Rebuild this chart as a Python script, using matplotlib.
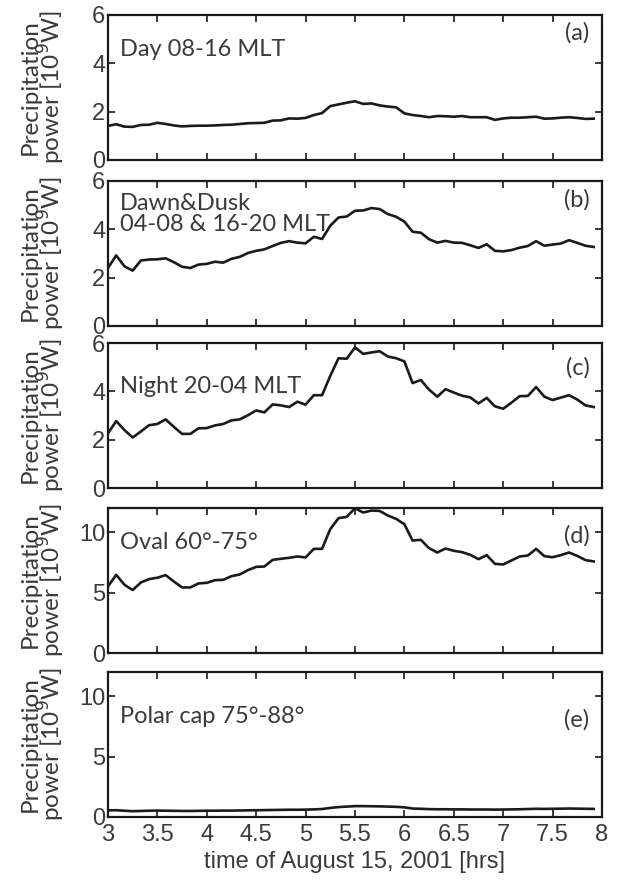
import numpy as np
import matplotlib
matplotlib.use("Agg")
import matplotlib.pyplot as plt

# 5-minute samples, 3:00 to 7:55
hours = 3 + np.arange(60) * 5 / 60

day = [1.41, 1.48, 1.38, 1.37, 1.45, 1.46, 1.54, 1.49, 1.43, 1.39,
       1.41, 1.42, 1.42, 1.43, 1.45, 1.46, 1.49, 1.52, 1.53, 1.54,
       1.63, 1.64, 1.72, 1.71, 1.74, 1.86, 1.94, 2.23, 2.30, 2.37,
       2.43, 2.32, 2.34, 2.26, 2.21, 2.18, 1.93, 1.86, 1.82, 1.77,
       1.82, 1.81, 1.79, 1.82, 1.77, 1.77, 1.77, 1.66, 1.72, 1.75,
       1.75, 1.77, 1.79, 1.71, 1.72, 1.75, 1.77, 1.74, 1.70, 1.71]

dawn_dusk = [2.40, 2.92, 2.47, 2.29, 2.71, 2.75, 2.76, 2.80, 2.64, 2.45,
             2.40, 2.54, 2.57, 2.66, 2.62, 2.78, 2.86, 3.02, 3.11, 3.17,
             3.31, 3.44, 3.51, 3.45, 3.42, 3.69, 3.60, 4.15, 4.49, 4.53,
             4.77, 4.78, 4.88, 4.84, 4.63, 4.52, 4.32, 3.90, 3.86, 3.59,
             3.45, 3.52, 3.45, 3.44, 3.34, 3.23, 3.38, 3.11, 3.09, 3.14,
             3.24, 3.31, 3.51, 3.32, 3.37, 3.41, 3.55, 3.44, 3.32, 3.27]

night = [2.26, 2.77, 2.40, 2.09, 2.34, 2.60, 2.65, 2.84, 2.53, 2.24,
         2.24, 2.47, 2.48, 2.59, 2.65, 2.80, 2.84, 3.01, 3.21, 3.13,
         3.46, 3.42, 3.35, 3.57, 3.45, 3.84, 3.84, 4.64, 5.37, 5.35,
         5.82, 5.55, 5.61, 5.66, 5.44, 5.37, 5.24, 4.34, 4.47, 4.07,
         3.78, 4.09, 3.95, 3.82, 3.75, 3.50, 3.73, 3.38, 3.28, 3.53,
         3.80, 3.81, 4.18, 3.78, 3.64, 3.74, 3.84, 3.66, 3.42, 3.35]

oval = [5.51, 6.47, 5.65, 5.21, 5.84, 6.12, 6.23, 6.45, 5.92, 5.43,
        5.43, 5.76, 5.81, 6.03, 6.06, 6.36, 6.50, 6.86, 7.13, 7.16,
        7.71, 7.80, 7.88, 7.99, 7.91, 8.62, 8.62, 10.25, 11.16, 11.27,
        11.98, 11.63, 11.79, 11.76, 11.38, 11.10, 10.66, 9.31, 9.37, 8.68,
        8.32, 8.65, 8.46, 8.35, 8.13, 7.77, 8.10, 7.38, 7.33, 7.66,
        7.99, 8.07, 8.62, 8.02, 7.93, 8.10, 8.32, 8.04, 7.69, 7.58]

polar = [0.55, 0.56, 0.52, 0.48, 0.50, 0.52, 0.53, 0.52, 0.51, 0.50,
         0.50, 0.51, 0.52, 0.52, 0.53, 0.53, 0.54, 0.55, 0.56, 0.57,
         0.58, 0.59, 0.60, 0.60, 0.61, 0.63, 0.66, 0.75, 0.82, 0.86,
         0.90, 0.90, 0.89, 0.88, 0.86, 0.84, 0.80, 0.70, 0.68, 0.65,
         0.64, 0.64, 0.63, 0.63, 0.62, 0.62, 0.62, 0.61, 0.62, 0.63,
         0.64, 0.66, 0.68, 0.67, 0.68, 0.69, 0.70, 0.69, 0.68, 0.67]

series = [day, dawn_dusk, night, oval, polar]
region_text = ["Day 08-16 MLT", "Dawn&Dusk\n04-08 & 16-20 MLT", "Night 20-04 MLT",
               "Oval 60°-75°", "Polar cap 75°-88°"]
letters = ["(a)", "(b)", "(c)", "(d)", "(e)"]
ylims = [6, 6, 6, 12, 12]
yticks = [[0, 2, 4, 6], [0, 2, 4, 6], [0, 2, 4, 6], [0, 5, 10], [0, 5, 10]]
xticks = [3, 3.5, 4, 4.5, 5, 5.5, 6, 6.5, 7, 7.5, 8]
xticklabels = ["3", "3.5", "4", "4.5", "5", "5.5", "6", "6.5", "7", "7.5", "8"]

txt = "#3a3a3a"
label_font = ["Lato", "DejaVu Sans"]
tick_font = ["Liberation Sans Narrow", "Liberation Sans", "DejaVu Sans"]

fig = plt.figure(figsize=(6.37, 8.82), dpi=100)

bottoms = [0.8186, 0.6304, 0.4467, 0.2596, 0.0737]
text_y = [0.76, 0.77, 0.70, 0.76, 0.69]
letter_y = [0.875, 0.87, 0.83, 0.81, 0.67]

for i in range(5):
    ax = fig.add_axes([0.1695, bottoms[i], 0.7755, 0.1644])
    ax.plot(hours, series[i], color="#1a1a1a", lw=1.9)
    ax.set_xlim(3, 8)
    ax.set_ylim(0, ylims[i])
    ax.set_yticks(yticks[i])
    ax.set_yticklabels([str(v) for v in yticks[i]], family=tick_font, fontsize=17, color=txt)
    ax.set_xticks(xticks)
    if i == 4:
        ax.set_xticklabels(xticklabels, family=tick_font, fontsize=17, color=txt)
        ax.set_xlabel("time of August 15, 2001 [hrs]", family=tick_font, fontsize=17,
                      color=txt, labelpad=4)
        ax.tick_params(axis="x", pad=5)
    else:
        ax.set_xticklabels([])
    ax.tick_params(direction="in", top=True, right=True, length=5, width=1.2,
                   colors="#1a1a1a", labelcolor=txt)
    ax.tick_params(axis="y", pad=2)
    for s in ax.spines.values():
        s.set_linewidth(1.6)
        s.set_color("#1a1a1a")
    ax.set_ylabel("Precipitation\npower [10$^9$W]", family=label_font, fontsize=17.5,
                  color=txt, linespacing=0.8)
    ax.yaxis.set_label_coords(-0.083, 0.5)
    ax.text(0.024, text_y[i], region_text[i], transform=ax.transAxes, family=label_font,
            fontsize=17, color=txt, va="center", ha="left", linespacing=1.0)
    ax.text(0.975, letter_y[i], letters[i], transform=ax.transAxes, family=label_font,
            fontsize=17, color=txt, va="center", ha="right")

fig.savefig("out.png", dpi=100)
